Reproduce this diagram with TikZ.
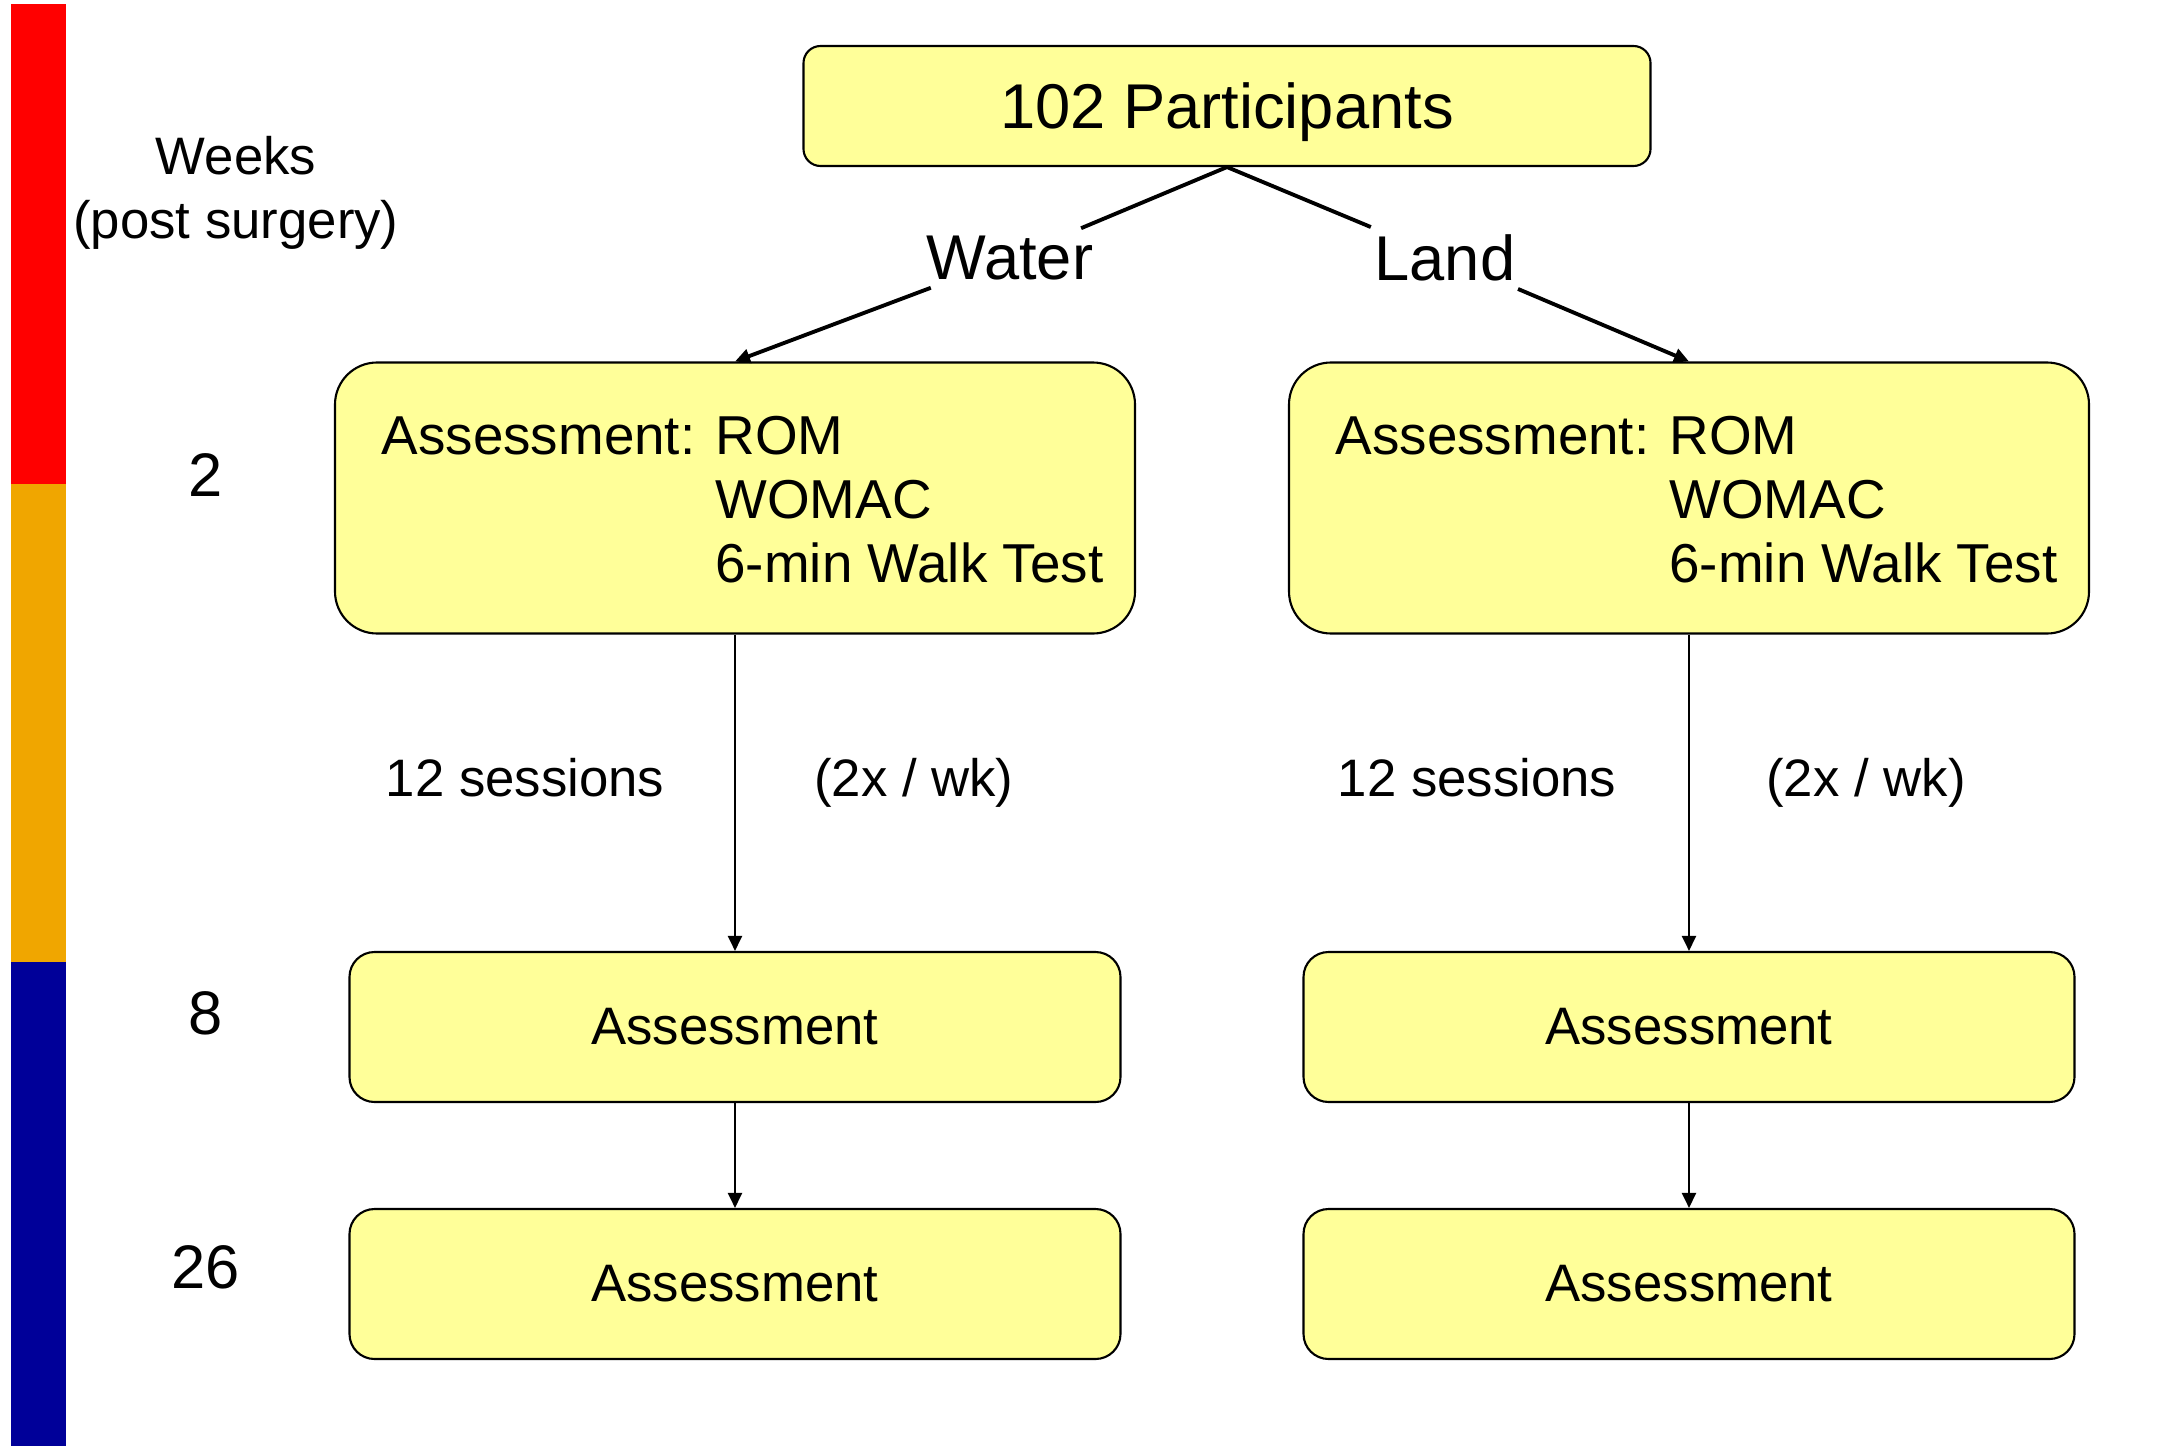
\documentclass[tikz,border=0pt]{standalone}
\usepackage{fontspec}
\setmainfont{Liberation Sans}
\usepackage{tikz}
\usetikzlibrary{positioning,arrows.meta}
\definecolor{boxyellow}{RGB}{255,255,153}
\definecolor{barred}{RGB}{255,0,0}
\definecolor{barorange}{RGB}{240,166,0}
\definecolor{barblue}{RGB}{0,0,153}
\newcommand{\assesslist}{\raisebox{0pt}[\dimexpr\height+4.5pt\relax][\depth]{\begin{tabular}{@{\hspace{1.5mm}}l@{\hspace{2mm}}l@{}}Assessment: & ROM\\ & WOMAC\\ & 6-min Walk Test\end{tabular}}}

\begin{document}
\begin{tikzpicture}[node distance={25.7mm},
    big/.style = {draw, fill=boxyellow, rounded corners=4.2mm, minimum width=80mm, minimum height=27.1mm, line width=0.6pt, font=\fontsize{15.6}{18.2}\selectfont},
    small/.style = {draw, fill=boxyellow, rounded corners=2.5mm, minimum width=77.1mm, minimum height=15mm, line width=0.6pt, font=\fontsize{15}{18.2}\selectfont},
    headbox/.style = {draw, fill=boxyellow, rounded corners=1.7mm, minimum width=84.7mm, minimum height=12mm, line width=0.6pt, text depth=0pt, font=\fontsize{18}{21}\selectfont},
    arm/.style = {inner sep=2pt, font=\fontsize{18}{21}\selectfont},
    weeknum/.style = {font=\fontsize{17.5}{21}\selectfont},
    sidenote/.style = {font=\fontsize{15}{18.2}\selectfont},
    >={Triangle[length=1.5mm, width=1.4mm]}]
    \useasboundingbox (0,0) rectangle (21.79,-14.46);
    % time bar
    \fill[barred] (0.11,-0.04) rectangle (0.66,-4.84);
    \fill[barorange] (0.11,-4.84) rectangle (0.66,-9.62);
    \fill[barblue] (0.11,-9.62) rectangle (0.66,-14.46);
    \node[sidenote, align=center] (weeks) at (2.36,-1.93) {Weeks\\(post surgery)};
    \node[weeknum] (n2) at (2.06,-4.75) {2};
    \node[weeknum] (n8) at (2.06,-10.13) {8};
    \node[weeknum] (n26) at (2.06,-12.67) {26};
    % boxes
    \node[headbox] (p) at (12.27,-1.06) {102 Participants};
    \node[arm] (water) at (10.10,-2.58) {Water};
    \node[arm] (land) at (14.45,-2.58) {Land};
    \node[big] (w2) at (7.35,-4.98) {\assesslist};
    \node[big, right of=w2, node distance=95.4mm] (l2) {\assesslist};
    \node[small, below of=w2, node distance=52.9mm] (w8) {Assessment};
    \node[small, below of=w8] (w26) {Assessment};
    \node[small, below of=l2, node distance=52.9mm] (l8) {Assessment};
    \node[small, below of=l8] (l26) {Assessment};
    \node[sidenote, anchor=base] (ws) at (5.25,-7.96) {12 sessions};
    \node[sidenote, anchor=base] (wf) at (9.14,-7.96) {(2x / wk)};
    \node[sidenote, anchor=base] (ls) at (14.77,-7.96) {12 sessions};
    \node[sidenote, anchor=base] (lf) at (18.66,-7.96) {(2x / wk)};
    % connectors
    \draw[line width=1.1pt] (p.south) -- (water);
    \draw[line width=1.1pt, ->] (water) -- (w2.north);
    \draw[line width=1.1pt] (p.south) -- (land);
    \draw[line width=1.1pt, ->] (land) -- (l2.north);
    \draw[line width=0.6pt, ->] (w2) -- (w8);
    \draw[line width=0.6pt, ->] (w8) -- (w26);
    \draw[line width=0.6pt, ->] (l2) -- (l8);
    \draw[line width=0.6pt, ->] (l8) -- (l26);
\end{tikzpicture}
\end{document}
